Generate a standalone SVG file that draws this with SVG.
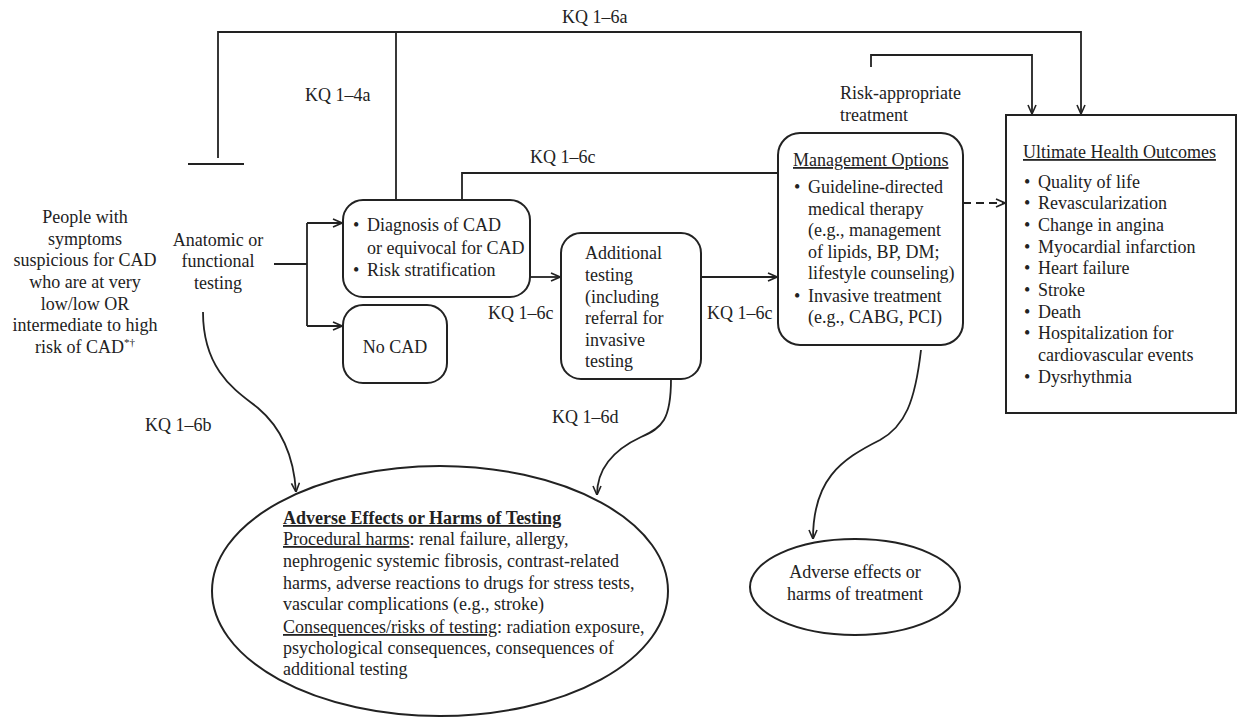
<svg xmlns="http://www.w3.org/2000/svg" width="1238" height="717" viewBox="0 0 1238 717">
<style>
text{font-family:"Liberation Serif","Times New Roman",serif;font-size:18px;fill:#222}
.c{text-anchor:middle}
.u{text-decoration:underline}
.b{font-weight:bold}
.box{fill:#fff;stroke:#222;stroke-width:2}
.ln{fill:none;stroke:#222;stroke-width:1.8}
.dash{stroke-dasharray:8 5}
</style>
<defs>
<marker id="ar" viewBox="0 0 10 10" refX="10" refY="5" markerWidth="10" markerHeight="10" markerUnits="userSpaceOnUse" orient="auto">
<path d="M1,1 L10,5 L1,9" fill="none" stroke="#222" stroke-width="1.6"/>
</marker>
</defs>
<rect width="1238" height="717" fill="#fff"/>

<g id="connectors">
<path class="ln" d="M218,158 V32 H1081 V114" marker-end="url(#ar)"/>
<path class="ln" d="M188,164 H244"/>
<path class="ln" d="M396,32 V200"/>
<path class="ln" d="M462,200 V173 H778"/>
<path class="ln" d="M871,67 V55 H1032 V114" marker-end="url(#ar)"/>
<path class="ln" d="M274,264 H307 M307,223 V326"/>
<path class="ln" d="M307,223 H342" marker-end="url(#ar)"/>
<path class="ln" d="M307,326 H342" marker-end="url(#ar)"/>
<path class="ln" d="M530,277 H560" marker-end="url(#ar)"/>
<path class="ln" d="M701,277 H777" marker-end="url(#ar)"/>
<path class="ln dash" d="M963,203 H1005" marker-end="url(#ar)"/>
<path class="ln" d="M203,312 C203,372 238,392 258,408 C284,430 294,460 296,492" marker-end="url(#ar)"/>
<path class="ln" d="M671,379 C671,420 662,428 641,437 C611,451 597,470 597,495" marker-end="url(#ar)"/>
<path class="ln" d="M921,350 C915,402 905,426 880,440 C840,460 813,480 813,539" marker-end="url(#ar)"/>
<text x="562" y="23">KQ 1–6a</text>
<text x="305" y="101">KQ 1–4a</text>
<text x="530" y="163">KQ 1–6c</text>
<text x="488" y="319">KQ 1–6c</text>
<text x="707" y="319">KQ 1–6c</text>
<text x="145" y="431">KQ 1–6b</text>
<text x="552" y="423">KQ 1–6d</text>
<text x="840" y="99">Risk-appropriate</text>
<text x="840" y="121">treatment</text>
</g>

<g id="population">
<text class="c" x="85" y="223">People with</text>
<text class="c" x="85" y="245">symptoms</text>
<text class="c" x="85" y="266">suspicious for CAD</text>
<text class="c" x="85" y="288">who are at very</text>
<text class="c" x="85" y="310">low/low OR</text>
<text class="c" x="85" y="331">intermediate to high</text>
<text class="c" x="85" y="353">risk of CAD<tspan font-size="11" dy="-7">*†</tspan></text>
</g>

<g id="testing">
<text class="c" x="218" y="246">Anatomic or</text>
<text class="c" x="218" y="267">functional</text>
<text class="c" x="218" y="289">testing</text>
</g>

<g id="diagnosis">
<rect class="box" x="343" y="200" width="187" height="97" rx="20"/>
<text x="353" y="231">•</text><text x="367" y="231">Diagnosis of CAD</text>
<text x="367" y="254">or equivocal for CAD</text>
<text x="353" y="276">•</text><text x="367" y="276">Risk stratification</text>
</g>

<g id="nocad">
<rect class="box" x="343" y="305" width="104" height="78" rx="20"/>
<text class="c" x="395" y="353">No CAD</text>
</g>

<g id="additional">
<rect class="box" x="561" y="233" width="140" height="146" rx="20"/>
<text x="585" y="259">Additional</text>
<text x="585" y="281">testing</text>
<text x="585" y="303">(including</text>
<text x="585" y="324">referral for</text>
<text x="585" y="346">invasive</text>
<text x="585" y="367">testing</text>
</g>

<g id="management">
<rect class="box" x="778" y="133" width="185" height="212" rx="22"/>
<text class="u" x="793" y="166">Management Options</text>
<text x="794" y="193">•</text><text x="808" y="193">Guideline-directed</text>
<text x="808" y="215">medical therapy</text>
<text x="808" y="236">(e.g., management</text>
<text x="808" y="258">of lipids, BP, DM;</text>
<text x="808" y="279">lifestyle counseling)</text>
<text x="794" y="302">•</text><text x="808" y="302">Invasive treatment</text>
<text x="808" y="323">(e.g., CABG, PCI)</text>
</g>

<g id="outcomes">
<rect class="box" x="1006" y="115" width="230" height="298"/>
<text class="u" x="1023" y="158">Ultimate Health Outcomes</text>
<text x="1024" y="188">•</text><text x="1038" y="188">Quality of life</text>
<text x="1024" y="209">•</text><text x="1038" y="209">Revascularization</text>
<text x="1024" y="231">•</text><text x="1038" y="231">Change in angina</text>
<text x="1024" y="253">•</text><text x="1038" y="253">Myocardial infarction</text>
<text x="1024" y="274">•</text><text x="1038" y="274">Heart failure</text>
<text x="1024" y="296">•</text><text x="1038" y="296">Stroke</text>
<text x="1024" y="318">•</text><text x="1038" y="318">Death</text>
<text x="1024" y="339">•</text><text x="1038" y="339">Hospitalization for</text>
<text x="1038" y="361">cardiovascular events</text>
<text x="1024" y="383">•</text><text x="1038" y="383">Dysrhythmia</text>
</g>

<g id="harms-testing">
<ellipse class="box" cx="440" cy="591" rx="228" ry="125"/>
<text class="b u" x="283" y="524">Adverse Effects or Harms of Testing</text>
<text x="283" y="545"><tspan class="u">Procedural harms</tspan>: renal failure, allergy,</text>
<text x="283" y="567">nephrogenic systemic fibrosis, contrast-related</text>
<text x="283" y="589">harms, adverse reactions to drugs for stress tests,</text>
<text x="283" y="610">vascular complications (e.g., stroke)</text>
<text x="283" y="633"><tspan class="u">Consequences/risks of testing</tspan>: radiation exposure,</text>
<text x="283" y="654">psychological consequences, consequences of</text>
<text x="283" y="675">additional testing</text>
</g>

<g id="harms-treatment">
<ellipse class="box" cx="855" cy="587" rx="105" ry="48"/>
<text class="c" x="855" y="578">Adverse effects or</text>
<text class="c" x="855" y="600">harms of treatment</text>
</g>
</svg>
